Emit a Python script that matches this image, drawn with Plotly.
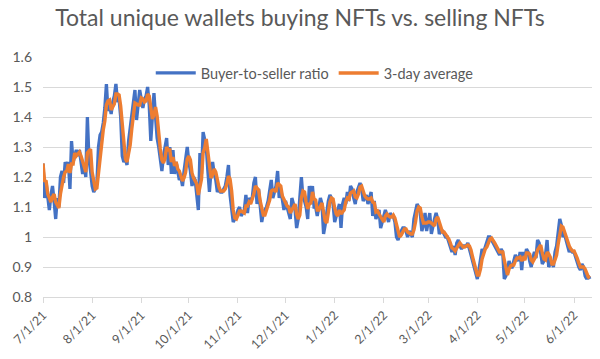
import pandas as pd
import plotly.graph_objects as go

start_date = "2021-07-01"

jul_21 = [1.245, 1.13, 1.18, 1.12, 1.09, 1.14, 1.17, 1.12, 1.06, 1.13, 1.10, 1.20, 1.22, 1.18, 1.25, 1.23,
          1.25, 1.16, 1.32, 1.25, 1.27, 1.29, 1.27, 1.29, 1.25, 1.21, 1.24, 1.20, 1.40, 1.26, 1.22]
aug_21 = [1.17, 1.15, 1.16, 1.18, 1.30, 1.34, 1.35, 1.38, 1.43, 1.51, 1.42, 1.44, 1.41, 1.45, 1.47, 1.51,
          1.45, 1.46, 1.40, 1.27, 1.25, 1.26, 1.24, 1.32, 1.36, 1.40, 1.45, 1.49, 1.39, 1.44, 1.49]
sep_21 = [1.46, 1.43, 1.46, 1.47, 1.50, 1.44, 1.32, 1.42, 1.48, 1.40, 1.33, 1.30, 1.25, 1.22, 1.27,
          1.30, 1.33, 1.24, 1.30, 1.21, 1.29, 1.21, 1.25, 1.22, 1.19, 1.20, 1.17, 1.22, 1.26, 1.30]
oct_21 = [1.25, 1.22, 1.17, 1.20, 1.19, 1.14, 1.09, 1.28, 1.21, 1.35, 1.33, 1.30, 1.22, 1.15, 1.22, 1.25,
          1.21, 1.19, 1.15, 1.16, 1.15, 1.15, 1.16, 1.17, 1.20, 1.24, 1.14, 1.08, 1.05, 1.06, 1.07]
nov_21 = [1.09, 1.10, 1.07, 1.08, 1.09, 1.14, 1.08, 1.13, 1.12, 1.13, 1.18, 1.20, 1.11, 1.16, 1.09,
          1.05, 1.08, 1.09, 1.10, 1.12, 1.15, 1.19, 1.13, 1.15, 1.17, 1.22, 1.13, 1.16, 1.12, 1.09]
dec_21 = [1.12, 1.10, 1.08, 1.06, 1.13, 1.11, 1.09, 1.03, 1.06, 1.13, 1.20, 1.13, 1.12, 1.10, 1.06, 1.17,
          1.11, 1.17, 1.10, 1.10, 1.07, 1.10, 1.13, 1.11, 1.01, 1.04, 1.09, 1.12, 1.14, 1.13, 1.11]
jan_22 = [1.05, 1.07, 1.09, 1.11, 1.03, 1.11, 1.13, 1.11, 1.15, 1.12, 1.17, 1.16, 1.13, 1.11, 1.15, 1.17,
          1.18, 1.16, 1.12, 1.13, 1.14, 1.11, 1.13, 1.15, 1.07, 1.12, 1.06, 1.08, 1.09, 1.03, 1.05]
feb_22 = [1.07, 1.09, 1.07, 1.05, 1.08, 1.07, 1.07, 1.05, 1.00, 0.99, 1.01, 1.02, 1.03, 1.03,
          1.02, 1.00, 1.02, 1.01, 1.00, 1.06, 1.09, 1.11, 1.10, 1.08, 1.02, 1.04, 1.08, 1.02]
mar_22 = [1.05, 1.08, 1.01, 1.04, 1.06, 1.08, 1.06, 1.01, 1.02, 1.02, 1.01, 1.00, 1.00, 0.98, 0.96, 0.95,
          0.97, 0.94, 0.98, 0.99, 0.97, 0.96, 0.97, 0.97, 0.97, 0.98, 0.96, 0.93, 0.91, 0.89, 0.87]
apr_22 = [0.86, 0.89, 0.93, 0.96, 0.95, 0.97, 0.98, 1.00, 1.00, 0.99, 0.98, 0.97, 0.96, 0.95, 0.94,
          0.96, 0.95, 0.86, 0.87, 0.89, 0.92, 0.90, 0.90, 0.92, 0.94, 0.93, 0.92, 0.95, 0.89, 0.95]
may_22 = [0.93, 0.96, 0.95, 0.92, 0.90, 0.93, 0.95, 0.93, 0.99, 0.98, 0.95, 0.91, 0.92, 0.94, 0.99, 0.90,
          0.91, 0.92, 0.90, 0.95, 0.97, 1.01, 1.06, 1.04, 1.00, 1.01, 0.99, 0.97, 0.95, 0.96, 0.95]
jun_22 = [0.95, 0.93, 0.91, 0.90, 0.89, 0.91, 0.90, 0.87, 0.86, 0.87, 0.86]

tick_dates = ["2021-07-01", "2021-08-01", "2021-09-01", "2021-10-01", "2021-11-01", "2021-12-01",
              "2022-01-01", "2022-02-01", "2022-03-01", "2022-04-01", "2022-05-01", "2022-06-01"]
tick_labels = ["7/1/21", "8/1/21", "9/1/21", "10/1/21", "11/1/21", "12/1/21",
               "1/1/22", "2/1/22", "3/1/22", "4/1/22", "5/1/22", "6/1/22"]
y_ticks = [0.8, 0.9, 1.0, 1.1, 1.2, 1.3, 1.4, 1.5, 1.6]
y_tick_labels = ["0.8", "0.9", "1", "1.1", "1.2", "1.3", "1.4", "1.5", "1.6"]

ratio = (jul_21 + aug_21 + sep_21 + oct_21 + nov_21 + dec_21 + jan_22 + feb_22 +
         mar_22 + apr_22 + may_22 + jun_22)
dates = pd.date_range(start_date, periods=len(ratio), freq="D")
avg3 = pd.Series(ratio).rolling(3, min_periods=1).mean().tolist()

FONT = "Lato"
GREY = "#595959"

fig = go.Figure()
fig.add_trace(go.Scatter(x=dates, y=ratio, mode="lines", name="Buyer-to-seller ratio",
                         line=dict(color="#4472C4", width=3.3)))
fig.add_trace(go.Scatter(x=dates, y=avg3, mode="lines", name="3-day average",
                         line=dict(color="#ED7D31", width=3.4)))

fig.update_layout(
    width=600, height=359,
    margin=dict(l=43, r=8, t=57, b=62),
    paper_bgcolor="white", plot_bgcolor="white",
    font=dict(family=FONT, color=GREY, size=12),
    title=dict(text="Total unique wallets buying NFTs vs. selling NFTs",
               x=0.5, xanchor="center", y=0.95, yanchor="middle",
               font=dict(family=FONT, size=23, color=GREY)),
    legend=dict(orientation="h", x=0.495, xanchor="center", y=1.0, yanchor="top",
                bgcolor="rgba(0,0,0,0)", font=dict(size=14.5, color=GREY),
                itemwidth=40),
    showlegend=True,
)
fig.update_xaxes(
    type="date",
    range=["2021-07-01", "2022-06-12 08:00"],
    tickvals=tick_dates, ticktext=tick_labels, tickangle=-45,
    showgrid=False, showline=True, linecolor="#D9D9D9", linewidth=1,
    ticks="outside", ticklen=5, tickcolor="#D9D9D9",
    tickfont=dict(size=12.5, color=GREY),
    zeroline=False, automargin=False,
)
fig.update_yaxes(
    range=[0.8, 1.6], tickvals=y_ticks, ticktext=y_tick_labels,
    showgrid=True, gridcolor="#D9D9D9", gridwidth=1,
    showline=False, zeroline=False, ticks="",
    tickfont=dict(size=14, color=GREY), ticklabelstandoff=10,
    automargin=False,
)

fig.write_html("out.html", config={"displayModeBar": False},
               post_script="document.body.style.margin='0';document.body.style.overflow='hidden';")
